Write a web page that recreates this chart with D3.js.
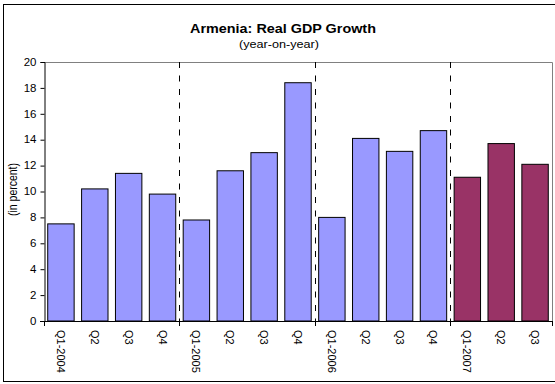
<!DOCTYPE html>
<html>
<head>
<meta charset="utf-8">
<script src="https://cdn.jsdelivr.net/npm/d3@7"></script>
<style>
  html, body { margin: 0; padding: 0; background: #fff; }
  svg { display: block; font-family: "Liberation Sans", Arial, sans-serif; }
</style>
</head>
<body>
<svg id="chart" width="555" height="384"></svg>
<script>
// Quarterly real GDP growth, year-on-year, in percent
const quarters = ["Q1-2004", "Q2", "Q3", "Q4",
                  "Q1-2005", "Q2", "Q3", "Q4",
                  "Q1-2006", "Q2", "Q3", "Q4",
                  "Q1-2007", "Q2", "Q3"];
const growth = [7.5, 10.2, 11.4, 9.8,
                7.8, 11.6, 13.0, 18.4,
                8.0, 14.1, 13.1, 14.7,
                11.1, 13.7, 12.1];
const yTicks = [0, 2, 4, 6, 8, 10, 12, 14, 16, 18, 20];
const yearStarts = [4, 8, 12];   // category index where a new year begins
const latestYearStart = 12;      // 2007 bars drawn in the second colour

const svg = d3.select("#chart");
const W = 555, H = 384;
const plot = { left: 44, right: 552, top: 62, bottom: 321 };
const SX = 1.15;  // horizontal text stretch

// outer frame
svg.append("rect")
  .attr("x", 3.5).attr("y", 4.5)
  .attr("width", 560).attr("height", 377)
  .attr("fill", "#fff").attr("stroke", "#000").attr("stroke-width", 1);

const x = d3.scaleBand()
  .domain(d3.range(quarters.length))
  .range([plot.left, plot.right])
  .paddingInner(0.22)
  .paddingOuter(0.11);

const y = d3.scaleLinear().domain([0, 20]).range([plot.bottom, plot.top]);

// plot-area border (top and right)
svg.append("path")
  .attr("d", `M${plot.left},${plot.top + 0.5}H${plot.right + 0.5}V${plot.bottom}`)
  .attr("fill", "none").attr("stroke", "#808080").attr("stroke-width", 1);

// bars
svg.append("g").selectAll("rect")
  .data(growth)
  .join("rect")
  .attr("x", (d, i) => x(i))
  .attr("y", d => y(d))
  .attr("width", x.bandwidth())
  .attr("height", d => y(0) - y(d))
  .attr("fill", (d, i) => i >= latestYearStart ? "#993366" : "#9999FF")
  .attr("stroke", "#000")
  .attr("stroke-width", 1);

// year separators
const step = x.step();
const boundary = i => plot.left + i * (plot.right - plot.left) / quarters.length;
svg.append("g").selectAll("line")
  .data(yearStarts)
  .join("line")
  .attr("x1", d => Math.round(boundary(d)) + 0.5)
  .attr("x2", d => Math.round(boundary(d)) + 0.5)
  .attr("y1", plot.top)
  .attr("y2", plot.bottom + 4)
  .attr("stroke", "#000")
  .attr("stroke-width", 1)
  .attr("stroke-dasharray", "6,7.5");

// y axis
const yAxis = svg.append("g")
  .attr("transform", `translate(${plot.left + 0.5},0)`)
  .call(d3.axisLeft(y).tickValues(yTicks).tickSize(4).tickPadding(4).tickFormat(d3.format("d")));
yAxis.select(".domain").attr("stroke", "#000");
yAxis.selectAll(".tick line").attr("stroke", "#000");
yAxis.selectAll(".tick text")
  .attr("font-size", 10)
  .attr("fill", "#000")
  .attr("font-family", "Liberation Sans, Arial, sans-serif")
  .each(function () {
    const t = d3.select(this);
    const xx = +t.attr("x");
    t.attr("transform", `translate(${xx},0) scale(${SX},1)`).attr("x", 0);
  });

// x axis baseline and year ticks
svg.append("line")
  .attr("x1", plot.left - 4).attr("x2", plot.right)
  .attr("y1", plot.bottom + 0.5).attr("y2", plot.bottom + 0.5)
  .attr("stroke", "#000");
svg.append("g").selectAll("line")
  .data([0, 4, 8, 12, 15])
  .join("line")
  .attr("x1", d => Math.round(boundary(d)) + 0.5)
  .attr("x2", d => Math.round(boundary(d)) + 0.5)
  .attr("y1", plot.bottom)
  .attr("y2", plot.bottom + 5)
  .attr("stroke", "#000");

// category labels, rotated
svg.append("g").selectAll("text")
  .data(quarters)
  .join("text")
  .attr("transform", (d, i) => `translate(${x(i) + x.bandwidth() / 2 - 4},${plot.bottom + 9}) rotate(90)`)
  .attr("text-anchor", "start")
  .attr("font-size", 11)
  .attr("fill", "#000")
  .text(d => d);

// y axis title
svg.append("text")
  .attr("transform", `translate(17,${(plot.top + plot.bottom) / 2 - 2}) rotate(-90) scale(1,${SX})`)
  .attr("text-anchor", "middle")
  .attr("font-size", 10.5)
  .attr("fill", "#000")
  .text("(in percent)");

// titles
svg.append("text")
  .attr("transform", `translate(283,33) scale(${SX},1)`)
  .attr("text-anchor", "middle")
  .attr("font-size", 12.5)
  .attr("font-weight", "bold")
  .attr("fill", "#000")
  .text("Armenia: Real GDP Growth");
svg.append("text")
  .attr("transform", `translate(279,48) scale(${SX},1)`)
  .attr("text-anchor", "middle")
  .attr("font-size", 11)
  .attr("fill", "#000")
  .text("(year-on-year)");
</script>
</body>
</html>
